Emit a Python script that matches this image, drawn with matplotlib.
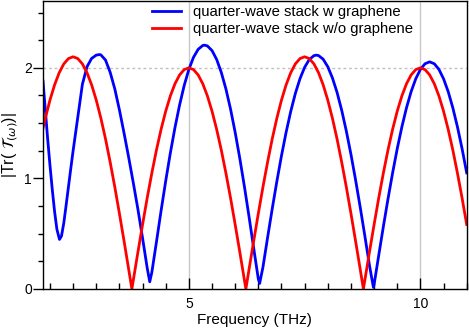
import matplotlib
matplotlib.use("Agg")
import matplotlib.pyplot as plt
from matplotlib.ticker import MultipleLocator

plt.rcParams['font.family'] = ['Liberation Sans', 'DejaVu Sans']
plt.rcParams['mathtext.fontset'] = 'dejavusans'

# quarter-wave stack without graphene
freq_wo = [1.85, 1.9, 2.0, 2.1, 2.2, 2.3, 2.4, 2.5, 2.6, 2.7, 2.8, 2.9, 3.0, 3.1, 3.2, 3.3, 3.4,
           3.5, 3.6, 3.7, 3.769, 3.8, 3.9, 4.0, 4.1, 4.2, 4.3, 4.4, 4.5, 4.6, 4.7, 4.8, 4.9,
           5.0, 5.1, 5.2, 5.3, 5.4, 5.5, 5.6, 5.7, 5.8, 5.9, 6.0, 6.1, 6.2, 6.231, 6.3, 6.4,
           6.5, 6.6, 6.7, 6.8, 6.9, 7.0, 7.1, 7.2, 7.3, 7.4, 7.5, 7.6, 7.7, 7.8, 7.9, 8.0,
           8.1, 8.2, 8.3, 8.4, 8.5, 8.6, 8.7, 8.769, 8.8, 8.9, 9.0, 9.1, 9.2, 9.3, 9.4, 9.5,
           9.6, 9.7, 9.8, 9.9, 10.0, 10.1, 10.2, 10.3, 10.4, 10.5, 10.6, 10.7, 10.8, 10.9, 11.0]
tr_wo = [1.453, 1.544, 1.708, 1.846, 1.956, 2.036, 2.084, 2.100, 2.084, 2.036, 1.956, 1.846,
         1.708, 1.544, 1.357, 1.148, 0.923, 0.683, 0.434, 0.179, 0.0, 0.079, 0.334, 0.583,
         0.823, 1.048, 1.257, 1.444, 1.608, 1.746, 1.856, 1.936, 1.984, 2.000, 1.984, 1.936,
         1.856, 1.746, 1.608, 1.444, 1.257, 1.048, 0.823, 0.583, 0.334, 0.079, 0.0, 0.179,
         0.434, 0.683, 0.923, 1.148, 1.357, 1.544, 1.708, 1.846, 1.956, 2.036, 2.084, 2.100,
         2.084, 2.036, 1.956, 1.846, 1.708, 1.544, 1.357, 1.148, 0.923, 0.683, 0.434, 0.179,
         0.0, 0.079, 0.334, 0.583, 0.823, 1.048, 1.257, 1.444, 1.608, 1.746, 1.856, 1.936,
         1.984, 2.000, 1.984, 1.936, 1.856, 1.746, 1.608, 1.444, 1.257, 1.048, 0.823, 0.583]

# quarter-wave stack with graphene
freq_w = [1.85, 1.9, 1.95, 2.0, 2.05, 2.1, 2.15, 2.206, 2.25, 2.3, 2.35, 2.4, 2.45, 2.5,
          2.6, 2.7, 2.8, 2.9, 3.0, 3.07, 3.1, 3.2, 3.3, 3.4, 3.5, 3.6, 3.7, 3.8, 3.9, 4.0,
          4.1, 4.155, 4.2, 4.3, 4.4, 4.5, 4.6, 4.7, 4.8, 4.9, 5.0, 5.1, 5.2, 5.3, 5.34, 5.4,
          5.5, 5.6, 5.7, 5.8, 5.9, 6.0, 6.1, 6.2, 6.3, 6.4, 6.5, 6.528, 6.6, 6.7, 6.8, 6.9,
          7.0, 7.1, 7.2, 7.3, 7.4, 7.5, 7.6, 7.7, 7.753, 7.8, 7.9, 8.0, 8.1, 8.2, 8.3, 8.4,
          8.5, 8.6, 8.7, 8.8, 8.9, 8.985, 9.0, 9.1, 9.2, 9.3, 9.4, 9.5, 9.6, 9.7, 9.8, 9.9,
          10.0, 10.1, 10.2, 10.3, 10.4, 10.5, 10.6, 10.7, 10.8, 10.9, 11.0]
tr_w = [1.88, 1.62, 1.36, 1.12, 0.90, 0.70, 0.54, 0.448, 0.48, 0.60, 0.76, 0.925, 1.09, 1.25,
        1.55, 1.85, 2.01, 2.085, 2.115, 2.12, 2.117, 2.07, 1.96, 1.81, 1.62, 1.41, 1.19, 0.96,
        0.72, 0.46, 0.19, 0.065, 0.15, 0.426, 0.708, 0.977, 1.230, 1.460, 1.665, 1.842,
        1.986, 2.095, 2.167, 2.202, 2.205, 2.198, 2.156, 2.076, 1.959, 1.809, 1.627, 1.416,
        1.181, 0.925, 0.652, 0.369, 0.09, 0.05, 0.198, 0.465, 0.725, 0.973, 1.205, 1.417,
        1.606, 1.769, 1.902, 2.005, 2.075, 2.110, 2.115, 2.111, 2.078, 2.010, 1.909, 1.778,
        1.617, 1.429, 1.218, 0.987, 0.740, 0.481, 0.214, 0.015, 0.04, 0.304, 0.564, 0.814,
        1.050, 1.269, 1.466, 1.639, 1.785, 1.901, 1.986, 2.037, 2.054, 2.037, 1.986, 1.901,
        1.785, 1.639, 1.466, 1.269, 1.050]

fig = plt.figure(figsize=(4.69, 3.29), dpi=100)
ax = fig.add_axes([0.0917, 0.1216, 0.9034, 0.8739])

# guide lines
for xv in [5, 10]:
    ax.axvline(xv, color="#c8c8c8", lw=1.0, zorder=0)
ax.axhline(2, color="#c0c0c0", lw=1.0, ls=(0, (2, 2)), zorder=0)

ax.plot(freq_w, tr_w, color="#0000ff", lw=2.0, label="quarter-wave stack w graphene")
ax.plot(freq_wo, tr_wo, color="#ff0000", lw=2.0, label="quarter-wave stack w/o graphene")

ax.set_xlim(1.85, 11.0)
ax.set_ylim(0, 2.6)

ax.xaxis.set_major_locator(MultipleLocator(5))
ax.xaxis.set_minor_locator(MultipleLocator(0.5))
ax.yaxis.set_major_locator(MultipleLocator(1))
ax.yaxis.set_minor_locator(MultipleLocator(0.25))
ax.tick_params(axis="x", which="major", direction="in", length=8, width=1.0, pad=6, labelsize=10)
ax.tick_params(axis="x", which="minor", direction="in", length=4.5, width=1.0)
ax.tick_params(axis="y", which="major", direction="out", length=7, width=1.0, pad=1, labelsize=10)
ax.tick_params(axis="y", which="minor", direction="out", length=3.5, width=1.0)
for sp in ax.spines.values():
    sp.set_linewidth(1.0)

ax.set_xlabel("Frequency (THz)", fontsize=11, labelpad=1)
ax.set_ylabel(r"|Tr( $\mathcal{T}_{(\omega)}$)|", fontsize=11.5, labelpad=3)

ax.legend(loc="upper left", bbox_to_anchor=(0.2566, 0.987), frameon=False, fontsize=10.7,
          handlelength=2.0, handletextpad=0.75, labelspacing=0.2, borderpad=0, borderaxespad=0)

plt.savefig("out.png", dpi=100)
plt.close()
